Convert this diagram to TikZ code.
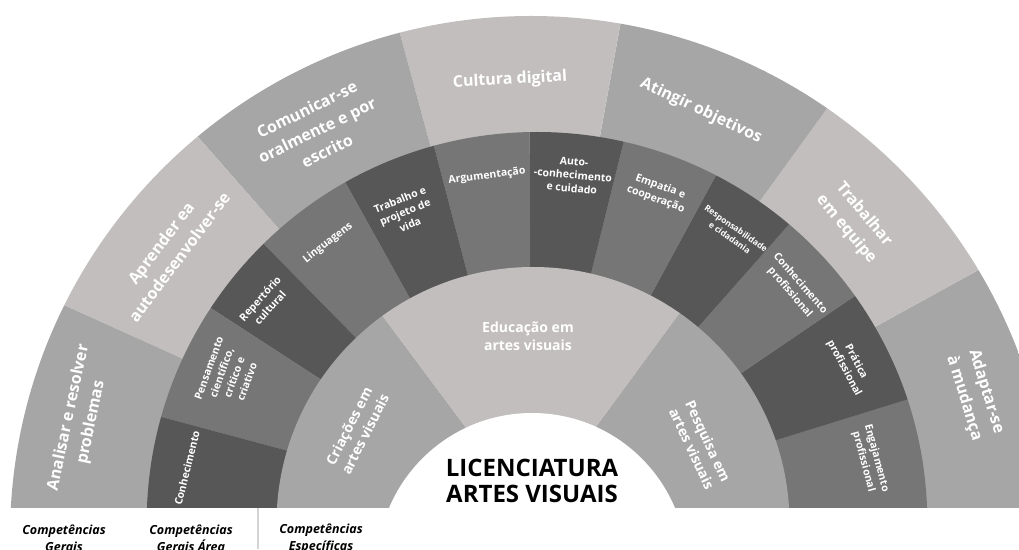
\documentclass[tikz,border=0pt]{standalone}
\usepackage{fontspec}
\setmainfont{Open Sans}
\definecolor{cMid}{HTML}{A6A6A6}
\definecolor{cLight}{HTML}{C2BEBE}
\definecolor{cDark}{HTML}{575757}
\definecolor{cMidD}{HTML}{767676}
\definecolor{cRule}{HTML}{D4D4D4}
\newcommand\mysector[3]{\fill[#3] (O) -- ++(#1:800) arc[start angle=#1,end angle=#2,radius=800] -- cycle;}
\begin{document}
\begin{tikzpicture}[x=1pt,y=1pt,
  ol/.style={text=white, font=\bfseries\fontsize{16}{23}\selectfont, align=center, inner sep=0pt},
  ml/.style={text=white, font=\bfseries\fontsize{10.5}{13.5}\selectfont, align=center, inner sep=0pt},
  sl/.style={text=white, font=\bfseries\fontsize{8.5}{11}\selectfont, align=center, inner sep=0pt},
  il/.style={text=white, font=\bfseries\fontsize{14}{18}\selectfont, align=center, inner sep=0pt},
  tl/.style={text=black, font=\bfseries\fontsize{24}{26}\selectfont, align=center, inner sep=0pt},
  bl/.style={text=black, font=\bfseries\itshape\fontsize{12.5}{17}\selectfont, align=center, inner sep=0pt}]
\useasboundingbox (0,0) rectangle (1019,549);
\coordinate (O) at (531,33);
\begin{scope}
  \clip (0,42) rectangle (1019,549);
  \begin{scope}
    \clip (531,12) circle[radius=521];
    \mysector{-20}{28.8}{cMid}
    \mysector{28.8}{54}{cLight}
    \mysector{54}{79.7}{cMid}
    \mysector{79.7}{105.2}{cLight}
    \mysector{105.2}{131.3}{cMid}
    \mysector{131.3}{155.7}{cLight}
    \mysector{155.7}{200}{cMid}
  \end{scope}
  \begin{scope}
    \clip (537,26.7) circle[radius=390.3];
    \mysector{-20}{17.2}{cMidD}
    \mysector{17.2}{34.2}{cDark}
    \mysector{34.2}{48.5}{cMidD}
    \mysector{48.5}{61.5}{cDark}
    \mysector{61.5}{76.1}{cMidD}
    \mysector{76.1}{90.2}{cDark}
    \mysector{90.2}{104.7}{cMidD}
    \mysector{104.7}{119.1}{cDark}
    \mysector{119.1}{134.5}{cMidD}
    \mysector{134.5}{147}{cDark}
    \mysector{147}{165}{cMidD}
    \mysector{165}{200}{cDark}
  \end{scope}
  \begin{scope}
    \clip (533,25.5) circle[radius=256.5];
    \mysector{-20}{53.7}{cMid}
    \mysector{53.7}{126.7}{cLight}
    \mysector{126.7}{200}{cMid}
  \end{scope}
  \fill[white] (532,-19) circle[radius=155];
\end{scope}
% outer ring labels
\node[ol, rotate=78] (analisar) at (80,129) {Analisar e resolver\\problemas};
\node[ol, rotate=53] (aprender) at (170,299) {Aprender ea\\autodesenvolver-se};
\node[ol, rotate=26] (comunicar) at (317,419) {Comunicar-se\\oralmente e por\\escrito};
\node[ol, rotate=3] (cultura) at (510,469) {Cultura digital};
\node[ol, rotate=-25] (atingir) at (701,438) {Atingir objetivos};
\node[ol, rotate=-50] (trabalhar) at (855,327) {Trabalhar\\em equipe};
\node[ol, rotate=-73] (adaptar) at (975,154) {Adaptar-se\\à mudança};
% middle ring labels
\node[ml, rotate=76] (conhec) at (187,81) {Conhecimento};
\node[ml, rotate=70] (pensam) at (228,174) {Pensamento\\científico,\\crítico e\\criativo};
\node[ml, rotate=48] (repert) at (265,246) {Repertório\\cultural};
\node[ml, rotate=38] (lingua) at (328,306) {Linguagens};
\node[ml, rotate=22] (trabvida) at (405,337) {Trabalho e\\projeto de\\vida};
\node[ml, rotate=7] (argum) at (487,373) {Argumentação};
\node[ml, rotate=-5] (auto) at (573,374) {Auto-\\-conhecimento\\e cuidado};
\node[ml, rotate=-20] (empatia) at (658,356) {Empatia e\\cooperação};
\node[sl, rotate=-35] (respons) at (733,316) {Responsabilidade\\e cidadania};
\node[ml, rotate=-49] (conhprof) at (795,261) {Conhecimento\\profissional};
\node[ml, rotate=-62] (pratica) at (850,184) {Prática\\profissional};
\node[ml, rotate=-75] (engaj) at (870,89) {Engajamento\\profissional};
% inner ring labels
\node[il, rotate=63] (criacoes) at (357,119) {Criações em\\artes visuais};
\node[il] (educacao) at (528,213) {Educação em\\artes visuais};
\node[il, rotate=-65] (pesquisa) at (700,104) {Pesquisa em\\artes visuais};
% title
\node[tl] (titulo) at (532,68.5) {LICENCIATURA\\ARTES VISUAIS};
% legend
\node[bl] (leg1) at (64,10.5) {Competências\\Gerais};
\node[bl] (leg2) at (191,10.5) {Competências\\Gerais Área};
\node[bl] (leg3) at (321,10.5) {Competências\\Específicas};
\coordinate (r1) at (258,41);
\coordinate (r2) at (258,0);
\draw[cRule, line width=1.2pt] (r1) -- (r2);
\end{tikzpicture}
\end{document}
